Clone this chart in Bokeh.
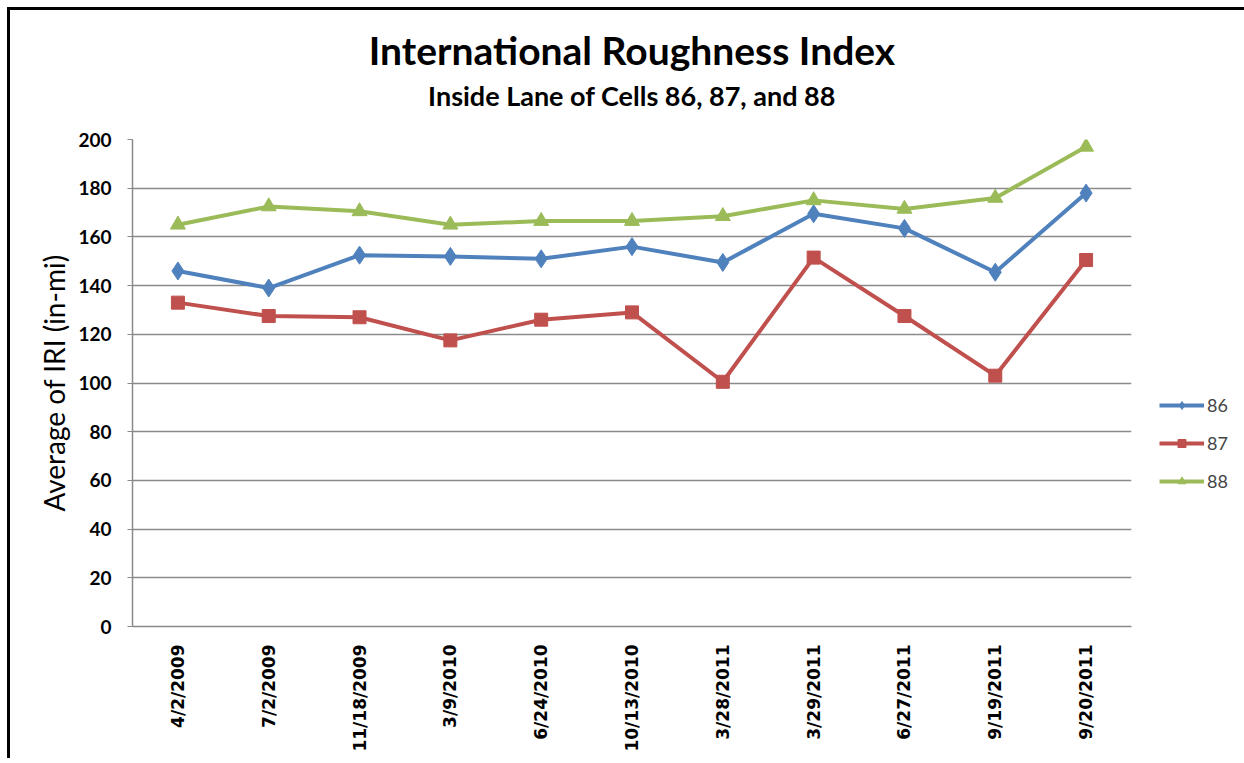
import math
from bokeh.plotting import figure
from bokeh.models import FactorRange, Range1d, Legend, LegendItem, Title, FixedTicker
from bokeh.embed import file_html
from bokeh.resources import INLINE

dates = ["4/2/2009", "7/2/2009", "11/18/2009", "3/9/2010", "6/24/2010", "10/13/2010",
         "3/28/2011", "3/29/2011", "6/27/2011", "9/19/2011", "9/20/2011"]
cell86 = [146, 139, 152.5, 152, 151, 156, 149.5, 169.5, 163.5, 145.5, 178]
cell87 = [133, 127.5, 127, 117.5, 126, 129, 100.5, 151.5, 127.5, 103, 150.5]
cell88 = [165, 172.5, 170.5, 165, 166.5, 166.5, 168.5, 175, 171.5, 176, 197]
y_ticks = [0, 20, 40, 60, 80, 100, 120, 140, 160, 180, 200]

title_text = "International Roughness Index"
subtitle_text = "Inside Lane of Cells 86, 87, and 88"
y_label = "Average of IRI (in-mi)"

BLUE, RED, GREEN = "#4F81BD", "#C0504D", "#9BBB59"
GRID = "#8A8A8A"

p = figure(x_range=FactorRange(*dates), y_range=Range1d(0, 200),
           frame_width=999, frame_height=487,
           min_border_left=122, min_border_right=108, min_border_top=129, min_border_bottom=132,
           output_backend="svg", toolbar_location=None)
p.styles = {"margin-left": "7px", "margin-top": "7px",
            "border-top": "3px solid black", "border-left": "3px solid black"}
p.outline_line_color = None
p.background_fill_color = "white"
p.border_fill_color = "white"

p.title.text = title_text
p.title.align = "center"
p.title.text_font = "Lato"
p.title.text_font_style = "bold"
p.title.text_font_size = "39px"
p.title.text_color = "black"
p.title.standoff = -48
p.add_layout(Title(text=subtitle_text, align="center", text_font="Lato", text_font_style="bold",
                   text_font_size="27px", text_color="black", standoff=56), "above")

# axes
p.xgrid.grid_line_color = None
p.ygrid.grid_line_color = GRID
p.ygrid.grid_line_width = 1.5
p.yaxis.ticker = FixedTicker(ticks=y_ticks)
p.yaxis.axis_line_color = GRID
p.yaxis.axis_line_width = 1.5
p.yaxis.major_tick_line_color = GRID
p.yaxis.major_tick_in = 0
p.yaxis.major_tick_out = 5
p.yaxis.minor_tick_line_color = None
p.yaxis.major_label_text_font = "Lato"
p.yaxis.major_label_text_font_style = "bold"
p.yaxis.major_label_text_font_size = "19px"
p.yaxis.major_label_text_color = "black"
p.yaxis.major_label_standoff = 16
p.yaxis.axis_label = y_label
p.yaxis.axis_label_text_font = "Lato"
p.yaxis.axis_label_text_font_style = "normal"
p.yaxis.axis_label_text_font_size = "28px"
p.yaxis.axis_label_text_color = "black"
p.yaxis.axis_label_standoff = 4

p.xaxis.axis_line_color = GRID
p.xaxis.axis_line_width = 1.5
p.xaxis.major_tick_line_color = None
p.xaxis.minor_tick_line_color = None
p.xaxis.major_label_orientation = math.pi / 2
p.xaxis.major_label_text_font = "DejaVu Sans"
p.xaxis.major_label_text_font_style = "bold"
p.xaxis.major_label_text_font_size = "17px"
p.xaxis.major_label_text_color = "black"
p.xaxis.major_label_standoff = 12

series = [("86", cell86, BLUE, "diamond", 18), ("87", cell87, RED, "square", 13), ("88", cell88, GREEN, "triangle", 15)]
items = []
for name, vals, col, marker, size in series:
    r1 = p.line(dates, vals, line_color=col, line_width=4)
    r2 = p.scatter(dates, vals, marker=marker, size=size, fill_color=col, line_color=col)
    items.append(LegendItem(label=name, renderers=[r1, r2]))

legend = Legend(items=items, location=(28, 134), orientation="vertical",
                glyph_width=45, glyph_height=20, spacing=16, label_standoff=3,
                label_text_font="Lato", label_text_font_size="18px",
                padding=0, margin=0, border_line_color=None, background_fill_alpha=0)
p.add_layout(legend, "right")

open("out.html", "w").write(file_html(p, INLINE))
